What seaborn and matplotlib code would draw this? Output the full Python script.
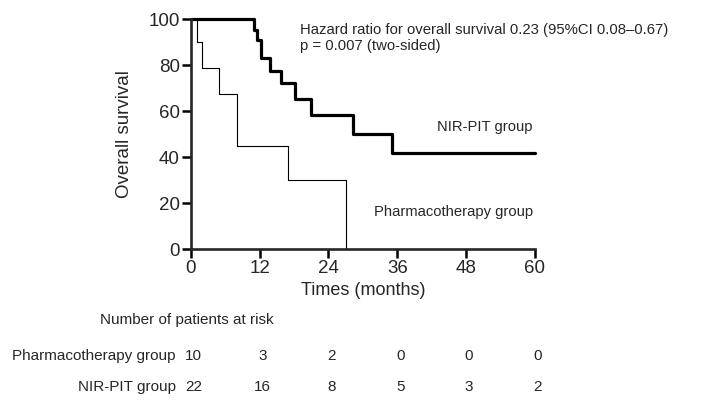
import numpy as np
import pandas as pd
import matplotlib
matplotlib.use('Agg')
import matplotlib.pyplot as plt
import matplotlib.transforms as mtransforms
import seaborn as sns

# Kaplan-Meier step points
nir_time = [0, 11, 11.6, 12.3, 13.8, 15.7, 18.2, 21, 28.2, 35, 60]
nir_surv = [100, 95.5, 90.9, 83.3, 77.5, 72.2, 65.5, 58.3, 50.0, 41.7, 41.7]
pharm_time = [0, 1, 2, 5, 8, 17, 27.1]
pharm_surv = [100, 90, 78.75, 67.5, 45, 30, 0]

x_ticks = [0, 12, 24, 36, 48, 60]
y_ticks = [0, 20, 40, 60, 80, 100]

# numbers at risk (at the x tick times)
risk_groups = ['Pharmacotherapy group', 'NIR-PIT group']
risk_pharm = [10, 3, 2, 0, 0, 0]
risk_nir = [22, 16, 8, 5, 3, 2]

sns.set_style('ticks')
plt.rcParams['font.family'] = ['Liberation Sans', 'DejaVu Sans']

df_nir = pd.DataFrame({'time': nir_time, 'surv': nir_surv})
df_pharm = pd.DataFrame({'time': pharm_time, 'surv': pharm_surv})

fig = plt.figure(figsize=(7.2, 4.05), dpi=100)
ax = fig.add_axes([0.265, 0.3845, 0.478, 0.568])

sns.lineplot(data=df_nir, x='time', y='surv', ax=ax, color='black', linewidth=2.3,
             drawstyle='steps-post', estimator=None, sort=False)
sns.lineplot(data=df_pharm, x='time', y='surv', ax=ax, color='black', linewidth=0.8,
             drawstyle='steps-post', estimator=None, sort=False)
for ln in ax.lines:
    ln.set_clip_on(False)

ax.set_xlim(0, 60)
ax.set_ylim(0, 100)
ax.set_xticks(x_ticks)
ax.set_yticks(y_ticks)
sns.despine(ax=ax)
for s in ['left', 'bottom']:
    ax.spines[s].set_linewidth(1.9)
ax.tick_params(axis='both', length=6.5, width=1.8, labelsize=13.5, pad=1.5, color='black')
ax.set_xlabel('Times (months)', fontsize=13, labelpad=3)
ax.set_ylabel('Overall survival', fontsize=13.5, labelpad=11)

ax.text(19, 92, 'Hazard ratio for overall survival 0.23 (95%CI 0.08\u20130.67)\np = 0.007 (two-sided)',
        fontsize=10.7, va='center', ha='left', linespacing=1.2)
ax.text(59.6, 53.3, 'NIR-PIT group', fontsize=10.6, ha='right', va='center')
ax.text(59.6, 16, 'Pharmacotherapy group', fontsize=10.6, ha='right', va='center')

# risk table under the plot, columns line up with the x ticks
tsize = 11
trans = mtransforms.blended_transform_factory(ax.transData, fig.transFigure)
fig.text(100 / 720, 1 - 320 / 405, 'Number of patients at risk', fontsize=tsize, va='center')
row_y = [356, 387]
for label, counts, yy in zip(risk_groups, [risk_pharm, risk_nir], row_y):
    fig.text(176 / 720, 1 - yy / 405, label, fontsize=tsize, ha='right', va='center')
    for t, n in zip(x_ticks, counts):
        fig.text(t + 0.5, 1 - yy / 405, str(n), fontsize=tsize, ha='center', va='center',
                 transform=trans)

fig.savefig('out.png', dpi=100)
